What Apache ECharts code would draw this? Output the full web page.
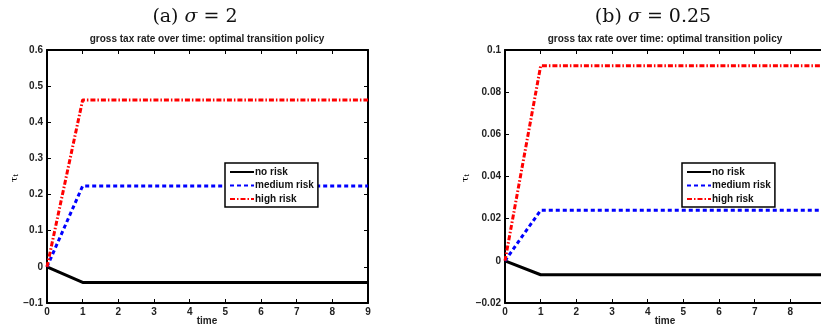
<!DOCTYPE html>
<html>
<head>
<meta charset="utf-8">
<script src="https://cdn.jsdelivr.net/npm/echarts@6/dist/echarts.min.js"></script>
<style>
  html, body { margin: 0; padding: 0; background: #fff; }
  #chart { width: 821px; height: 326px; }
</style>
</head>
<body>
<div id="chart"></div>
<script>
// data
var time = [0, 1, 2, 3, 4, 5, 6, 7, 8, 9];
var seriesNames = ['no risk', 'medium risk', 'high risk'];

// (a) sigma = 2
var noRiskA     = [0, -0.043, -0.043, -0.043, -0.043, -0.043, -0.043, -0.043, -0.043, -0.043];
var mediumRiskA = [0, 0.224, 0.224, 0.224, 0.224, 0.224, 0.224, 0.224, 0.224, 0.224];
var highRiskA   = [0, 0.462, 0.462, 0.462, 0.462, 0.462, 0.462, 0.462, 0.462, 0.462];

// (b) sigma = 0.25
var noRiskB     = [0, -0.0066, -0.0066, -0.0066, -0.0066, -0.0066, -0.0066, -0.0066, -0.0066, -0.0066];
var mediumRiskB = [0, 0.024, 0.024, 0.024, 0.024, 0.024, 0.024, 0.024, 0.024, 0.024];
var highRiskB   = [0, 0.0925, 0.0925, 0.0925, 0.0925, 0.0925, 0.0925, 0.0925, 0.0925, 0.0925];

var yTicksA = { min: -0.1, max: 0.6, interval: 0.1 };
var yTicksB = { min: -0.02, max: 0.1, interval: 0.02 };

var myChart = echarts.init(document.getElementById('chart'));

var font = 'Liberation Sans, Arial, sans-serif';
var lineStyles = [
    { color: '#000', width: 3, type: 'solid' },
    { color: '#0000ff', width: 3, type: [4, 3] },
    { color: '#ff0000', width: 3, type: [5, 2, 1.5, 2] }
];

function pairs(ys) {
    return time.map(function (t, i) { return [t, ys[i]]; });
}

function minus(v) {
    return String(v).replace('-', '\u2212');
}

function bottomAxis(idx) {
    return {
        type: 'value', gridIndex: idx, position: 'bottom',
        min: 0, max: 9, interval: 1,
        axisLine: { onZero: false, lineStyle: { color: '#000', width: 2 } },
        axisTick: { inside: true, length: 4, lineStyle: { color: '#000', width: 1 } },
        axisLabel: { margin: 4, fontFamily: font, fontWeight: 'bold', fontSize: 10, color: '#222' },
        splitLine: { show: false }
    };
}
function topAxis(idx) {
    return {
        type: 'value', gridIndex: idx, position: 'top',
        min: 0, max: 9, interval: 1,
        axisLine: { onZero: false, lineStyle: { color: '#000', width: 2 } },
        axisTick: { inside: true, length: 4, lineStyle: { color: '#000', width: 1 } },
        axisLabel: { show: false },
        splitLine: { show: false }
    };
}
function leftAxis(idx, t) {
    return {
        type: 'value', gridIndex: idx, position: 'left',
        min: t.min, max: t.max, interval: t.interval,
        axisLine: { onZero: false, lineStyle: { color: '#000', width: 2 } },
        axisTick: { inside: true, length: 4, lineStyle: { color: '#000', width: 1 } },
        axisLabel: {
            margin: 4, fontFamily: font, fontWeight: 'bold', fontSize: 10, color: '#222',
            formatter: function (v) { return minus(+v.toFixed(4)); }
        },
        splitLine: { show: false }
    };
}
function rightAxis(idx, t) {
    return {
        type: 'value', gridIndex: idx, position: 'right',
        min: t.min, max: t.max, interval: t.interval,
        axisLine: { onZero: false, lineStyle: { color: '#000', width: 2 } },
        axisTick: { inside: true, length: 4, lineStyle: { color: '#000', width: 1 } },
        axisLabel: { show: false },
        splitLine: { show: false }
    };
}

function makeSeries(name, i, data, axisIdx) {
    return {
        name: name, type: 'line', data: pairs(data),
        xAxisIndex: axisIdx, yAxisIndex: axisIdx,
        symbol: 'none', animation: false,
        lineStyle: lineStyles[i], itemStyle: { color: lineStyles[i].color }
    };
}

function legendAt(left) {
    return {
        data: seriesNames, orient: 'vertical', left: left, top: 163,
        backgroundColor: '#fff', borderColor: '#000', borderWidth: 1.5, borderRadius: 0,
        padding: [4, 4, 3, 4], itemGap: 3.5, itemWidth: 24, itemHeight: 10,
        selectedMode: false,
        itemStyle: { opacity: 0 },
        textStyle: { fontFamily: font, fontWeight: 'bold', fontSize: 10, color: '#111', padding: [0, 0, 0, -4] }
    };
}

var seriesList = [];
[noRiskA, mediumRiskA, highRiskA].forEach(function (d, i) {
    seriesList.push(makeSeries(seriesNames[i], i, d, 0));
});
[noRiskB, mediumRiskB, highRiskB].forEach(function (d, i) {
    seriesList.push(makeSeries(seriesNames[i], i, d, 2));
});

var titleRich = {
    i: { fontFamily: 'DejaVu Serif, serif', fontStyle: 'italic', fontSize: 19, color: '#111' }
};
var tauRich = {
    a: { fontFamily: 'DejaVu Serif, serif', fontSize: 10, color: '#222' },
    s: { fontFamily: 'DejaVu Serif, serif', fontSize: 7, color: '#222', padding: [5, 0, 0, 0] }
};

function panelLabels(titleX, titleText, midX, tauX) {
    return [
        { type: 'text', x: titleX, y: 17, style: {
            text: titleText, align: 'center', verticalAlign: 'middle',
            font: '19px "DejaVu Serif", serif', fill: '#111', rich: titleRich } },
        { type: 'text', x: midX, y: 39, style: {
            text: 'gross tax rate over time: optimal transition policy', align: 'center', verticalAlign: 'middle',
            font: 'bold 10px "Liberation Sans", Arial, sans-serif', fill: '#222' } },
        { type: 'text', x: midX, y: 321, style: {
            text: 'time', align: 'center', verticalAlign: 'middle',
            font: 'bold 10px "Liberation Sans", Arial, sans-serif', fill: '#222' } },
        { type: 'text', x: tauX, y: 178, rotation: Math.PI / 2, style: {
            text: '{a|\u03c4}{s|t}', align: 'center', verticalAlign: 'middle', rich: tauRich } }
    ];
}

var option = {
    backgroundColor: '#fff',
    animation: false,
    grid: [
        { left: 47, top: 50, width: 321, height: 253, outerBoundsMode: 'none', containLabel: false },
        { left: 505, top: 50, width: 321, height: 253, outerBoundsMode: 'none', containLabel: false }
    ],
    xAxis: [bottomAxis(0), topAxis(0), bottomAxis(1), topAxis(1)],
    yAxis: [leftAxis(0, yTicksA), rightAxis(0, yTicksA), leftAxis(1, yTicksB), rightAxis(1, yTicksB)],
    legend: [legendAt(225), legendAt(682)],
    series: seriesList,
    graphic: panelLabels(195, '(a) {i|\u03c3} = 2', 207, 14)
        .concat(panelLabels(653, '(b) {i|\u03c3} = 0.25', 665, 465))
};

myChart.setOption(option);
</script>
</body>
</html>
